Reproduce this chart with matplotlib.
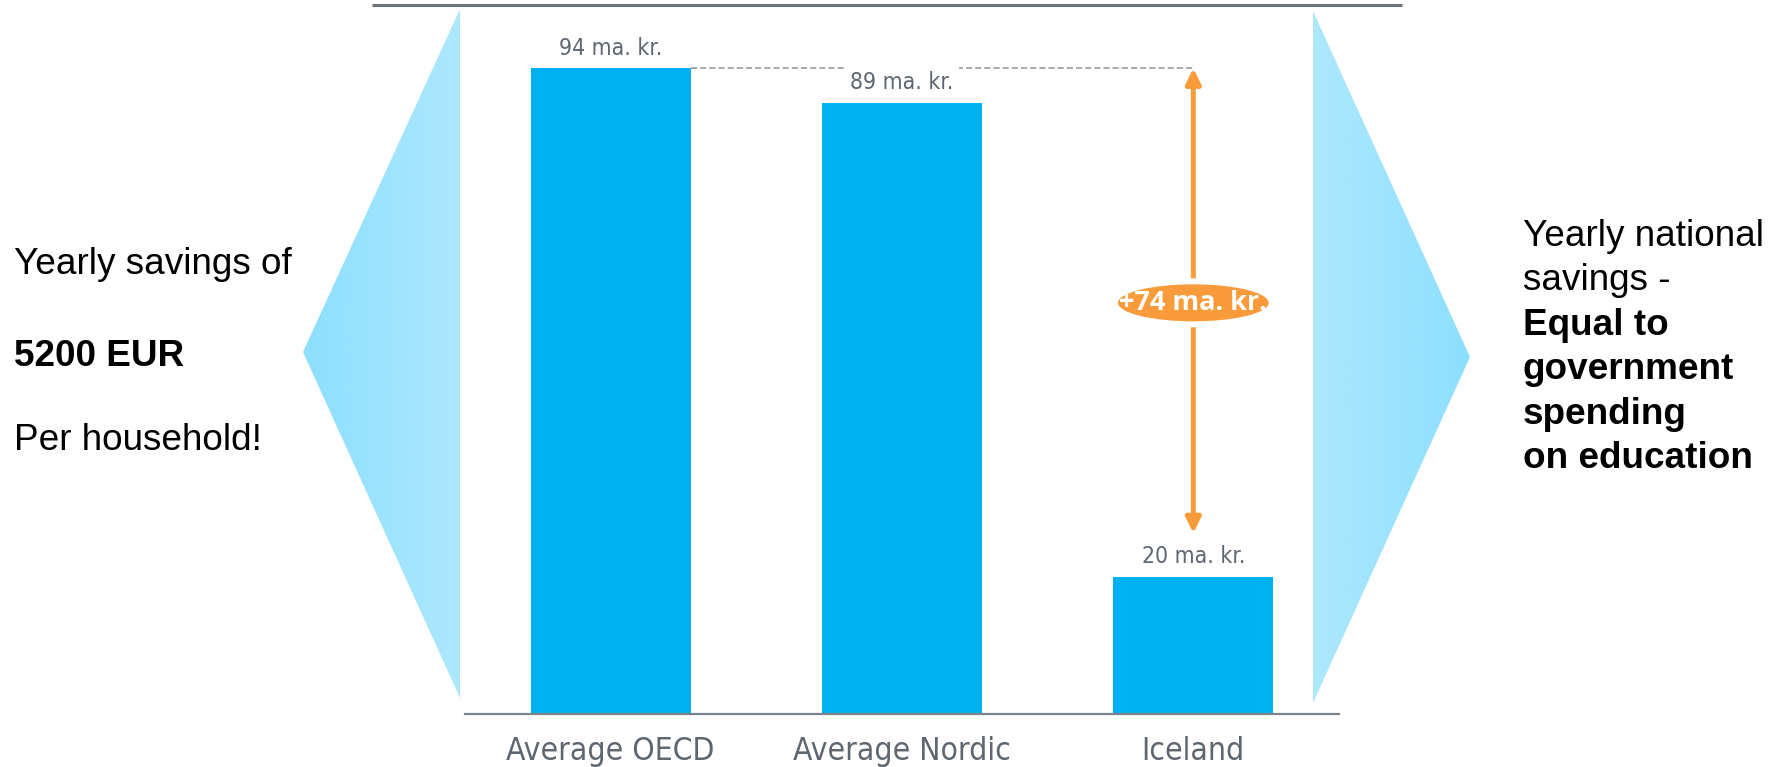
import matplotlib
matplotlib.use('Agg')
import matplotlib.pyplot as plt
import numpy as np
from matplotlib.patches import Polygon, Ellipse
from matplotlib.colors import LinearSegmentedColormap
from matplotlib import font_manager
from matplotlib.font_manager import FontProperties

# ---- data ----
categories = ['Average OECD', 'Average Nordic', 'Iceland']
values = [94, 89, 20]
value_labels = ['94 ma. kr.', '89 ma. kr.', '20 ma. kr.']
diff_label = '+74 ma. kr.'
left_lines = [('Yearly savings of', False), ('5200 EUR', True), ('Per household!', False)]
right_lines = [('Yearly national', False), ('savings -', False), ('Equal to', True),
               ('government', True), ('spending', True), ('on education', True)]

W, H = 1779, 767
fig = plt.figure(figsize=(W / 100, H / 100), dpi=100)

# look for a condensed sans font; fall back to Open Sans
cands = []
for f in font_manager.fontManager.ttflist:
    nm = f.name.lower()
    st = str(f.stretch).lower()
    fn = f.fname.lower()
    if f.style != 'normal':
        continue
    cond = ('condensed' in nm or 'narrow' in nm or 'condensed' in fn or 'narrow' in fn
            or st in ('condensed', 'semi-condensed', 'extra-condensed'))
    if cond and 'mono' not in nm and 'serif' not in nm.replace('sans', ''):
        w = f.weight if isinstance(f.weight, int) else 400
        cands.append((abs(w - 400), 0 if 'semi' not in (nm + fn + st) else 1, f.fname))
cands.sort()
if cands:
    narrow_fp = dict(fname=cands[0][2])
    narrow_scale = 1.0
else:
    narrow_fp = dict(family='Open Sans')
    narrow_scale = 0.85

sans = 'Liberation Sans'
BAR = '#00B0F0'
ORANGE = '#F99B3A'
GRAY = '#5E6670'


def nfp(size):
    return FontProperties(size=size * narrow_scale, **narrow_fp)


# ---- decoration layer (pixel coordinates) ----
bg = fig.add_axes([0, 0, 1, 1])
bg.axis('off')


def grad_tri(pts, c_left, c_right):
    xs = [p[0] for p in pts]
    ys = [p[1] for p in pts]
    grad = np.linspace(0, 1, 256).reshape(1, -1)
    cmap = LinearSegmentedColormap.from_list('g', [c_left, c_right])
    im = bg.imshow(grad, cmap=cmap, extent=[min(xs), max(xs), max(ys), min(ys)],
                   aspect='auto', zorder=1, interpolation='bilinear')
    poly = Polygon(pts, closed=True, facecolor='none', edgecolor='none')
    bg.add_patch(poly)
    im.set_clip_path(poly)


grad_tri([(460, 9), (303, 352), (460, 698)], '#8CDFFE', '#AEE8FE')
grad_tri([(1313, 11), (1470, 357), (1313, 703)], '#AEE8FE', '#8CDFFE')
bg.plot([372, 1402], [5, 5], color='#6B7179', lw=2.2, solid_capstyle='butt')

bg.set_xlim(0, W)
bg.set_ylim(H, 0)

for (txt, b), y in zip(left_lines, [264, 357, 440]):
    bg.text(14, y, txt, fontsize=26.6, family=sans, weight='bold' if b else 'normal',
            va='center', ha='left', color='black')
for i, (txt, b) in enumerate(right_lines):
    y = 236 + i * 44.6
    bg.text(1523, y, txt, fontsize=26.6, family=sans, weight='bold' if b else 'normal',
            va='center', ha='left', color='black')

# ---- chart ----
ax = fig.add_axes([465 / W, (H - 714) / H, 874 / W, 687 / H])
ax.set_facecolor('none')
x = np.arange(len(categories))
ax.bar(x, values, width=0.55, color=BAR, zorder=2)
ax.set_xlim(-0.5, 2.5)
ax.set_ylim(0, 100)
for s in ['top', 'left', 'right']:
    ax.spines[s].set_visible(False)
ax.spines['bottom'].set_color('#7D838A')
ax.spines['bottom'].set_linewidth(1.6)
ax.set_yticks([])
ax.set_xticks(x, categories)
for t in ax.get_xticklabels():
    t.set_fontproperties(nfp(22.8))
    t.set_color(GRAY)
ax.tick_params(axis='x', length=0, pad=16)

# dashed reference line from top of first bar to the arrow
ax.plot([x[0] + 0.275, x[2]], [values[0], values[0]], ls=(0, (4, 2)),
        color='#8E9297', lw=1.1, zorder=1)

for xi, v, lbl in zip(x, values, value_labels):
    ax.annotate(lbl, (xi, v), xytext=(0, 14.5), textcoords='offset points',
                ha='center', va='center', fontproperties=nfp(16.5), color=GRAY,
                bbox=dict(fc='white', ec='none', pad=4), zorder=3)

# difference arrow
arrow_bottom = values[2] + 6.3
ax.annotate('', xy=(x[2], values[0]), xytext=(x[2], arrow_bottom),
            arrowprops=dict(arrowstyle='<|-|>,head_length=0.45,head_width=0.22',
                            color=ORANGE, lw=3.6, shrinkA=0, shrinkB=0,
                            mutation_scale=20), zorder=4)
mid = (values[0] + arrow_bottom) / 2
ax.add_patch(Ellipse((x[2], mid - 0.3), 0.517 + 12 / 292, (37 + 12) / 6.87,
                     facecolor='white', edgecolor='none', zorder=5))
ax.add_patch(Ellipse((x[2], mid - 0.3), 0.517, 37 / 6.87,
                     facecolor=ORANGE, edgecolor='none', zorder=6))
ax.text(x[2], mid - 0.3, diff_label, ha='center', va='center', fontsize=19.5,
        family='Open Sans', weight='bold', color='white', zorder=7)

fig.savefig('out.png', dpi=100)
